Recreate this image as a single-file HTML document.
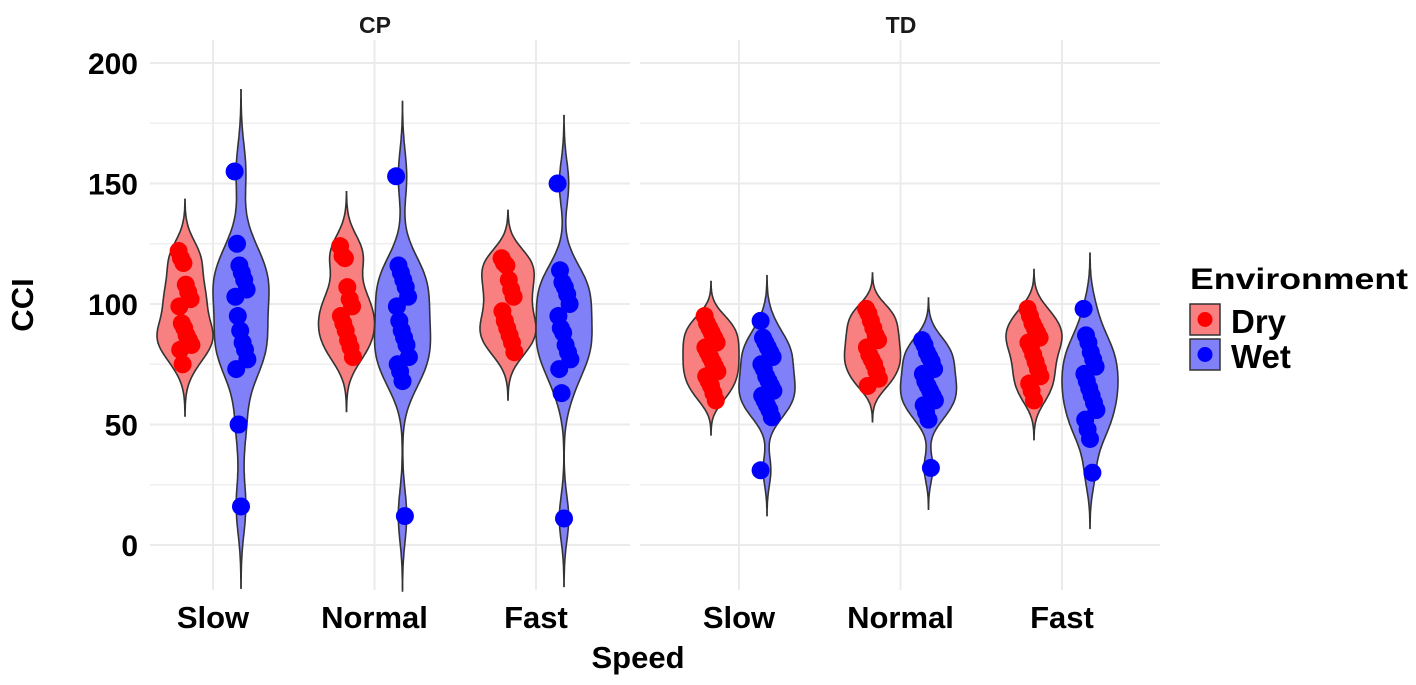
<!DOCTYPE html>
<html><head><meta charset="utf-8"><style>
html,body{margin:0;padding:0;background:#fff;}
svg{display:block;font-family:"Liberation Sans",Arial,sans-serif;}
</style></head><body>
<svg id="chart" width="1416" height="685" viewBox="0 0 1416 685"></svg>
<script>
const panels = ["CP","TD"];
const speeds = ["Slow","Normal","Fast"];
const envs = ["Dry","Wet"];
const yTicks = [0,50,100,150,200];
const cpSlowDry = [122,119,117,108,105,102,99,92,90,87,85,83,81,75];
const cpSlowWet = [155,125,116,113,110,106,103,95,89,84,81,77,73,50,16];
const cpNormalDry = [124,120,119,107,102,99,95,92,89,85,82,78];
const cpNormalWet = [153,116,113,110,107,103,99,93,89,86,83,78,75,72,68,12];
const cpFastDry = [119,117,116,110,106,103,97,93,90,87,84,80];
const cpFastWet = [150,114,109,107,104,100,95,90,88,83,80,77,73,63,11];
const tdSlowDry = [95,92,90,88,86,84,82,80,78,76,74,72,70,68,66,63,60];
const tdSlowWet = [93,86,84,82,80,78,75,73,70,68,66,64,62,60,58,56,53,31];
const tdNormalDry = [98,96,93,90,87,85,82,79,77,75,72,69,66];
const tdNormalWet = [85,83,80,78,76,73,71,68,66,64,62,60,58,55,52,32];
const tdFastDry = [98,95,92,90,88,86,84,82,79,76,73,70,67,64,60];
const tdFastWet = [98,87,84,80,77,74,71,68,65,62,59,56,52,48,44,30];
const series = [
 [[cpSlowDry,cpSlowWet],[cpNormalDry,cpNormalWet],[cpFastDry,cpFastWet]],
 [[tdSlowDry,tdSlowWet],[tdNormalDry,tdNormalWet],[tdFastDry,tdFastWet]]
];

const NS="http://www.w3.org/2000/svg";
const svg=document.getElementById('chart');
function mk(tag,attrs,parent){const e=document.createElementNS(NS,tag);for(const k in attrs)e.setAttribute(k,attrs[k]);(parent||svg).appendChild(e);return e;}
const panelX=[[150,630],[640,1160]];
const catStart=[213,739];
const panelTop=40, panelBot=590;
const catStep=161.5;
function yScale(v){return 545 - v*2.41;}
function xCat(p,i){return catStart[p]+i*catStep;}
const fills=["#f88080","#8080f8"], dots=["#ff0000","#0000ff"];

panels.forEach((pn,p)=>{
  const g=mk('g',{});
  
  
  for(let v=0;v<=200;v+=25){
    const gl=mk('line',{x1:panelX[p][0],x2:panelX[p][1],y1:yScale(v),y2:yScale(v),stroke:'#ebebeb','stroke-width':v%50?1.2:2},g);
    
    
  }
  speeds.forEach((s,i)=>{
    const gl=mk('line',{x1:xCat(p,i),x2:xCat(p,i),y1:panelTop,y2:panelBot,stroke:'#ebebeb','stroke-width':2},g);
    
    
    const t=mk('text',{x:xCat(p,i),y:628,'text-anchor':'middle','font-size':31,'font-weight':'bold',fill:'#000'},g);
    t.textContent=s;
    
    
  });
  const st=mk('text',{x:p?901:375,y:33,'text-anchor':'middle','font-size':23,'font-weight':'bold',fill:'#1a1a1a'},g);
  st.textContent=pn;
  
  
  speeds.forEach((s,i)=>{
    envs.forEach((e,k)=>{
      const data=series[p][i][k];
      const cx=xCat(p,i)+(k?28:-28);
      const n=data.length;
      const mean=data.reduce((a,b)=>a+b,0)/n;
      const sd=Math.sqrt(data.reduce((a,b)=>a+(b-mean)*(b-mean),0)/(n-1));
      const sorted=[...data].sort((a,b)=>a-b);
      const q=f=>{const h=(n-1)*f,l=Math.floor(h);return sorted[l]+(h-l)*((sorted[l+1]??sorted[l])-sorted[l]);};
      const iqr=q(0.75)-q(0.25);
      const bw=0.8*Math.min(sd,iqr/1.34)*Math.pow(n,-0.2);
      const lo=sorted[0]-3*bw, hi=sorted[n-1]+3*bw;
      const N=140, ys=[], ds=[];
      for(let j=0;j<=N;j++){const y=lo+(hi-lo)*j/N;let d=0;data.forEach(x=>{const z=(y-x)/bw;d+=Math.exp(-0.5*z*z);});ys.push(y);ds.push(d);}
      const mx=Math.max(...ds);
      let path='';
      for(let j=0;j<=N;j++){path+=(j?'L':'M')+(cx+28*ds[j]/mx).toFixed(1)+','+yScale(ys[j]).toFixed(1);}
      for(let j=N;j>=0;j--){path+='L'+(cx-28*ds[j]/mx).toFixed(1)+','+yScale(ys[j]).toFixed(1);}
      path+='Z';
      const vp=mk('path',{d:path,fill:fills[k],stroke:'#333','stroke-width':1.6},g);
      
      
      data.forEach((v,j)=>{
        const off=((j*37)%17-8)*0.8;
        const c=mk('circle',{cx:cx+off,cy:yScale(v),r:9,fill:dots[k]},g);
        
        
      });
    });
  });
});
yTicks.forEach(v=>{
  const t=mk('text',{x:138,y:yScale(v)+11,'text-anchor':'end','font-size':30,'font-weight':'bold',fill:'#000'});
  t.textContent=v;
  
  
});
const xt=mk('text',{x:638,y:668,'text-anchor':'middle','font-size':31,'font-weight':'bold',fill:'#000'});
xt.textContent='Speed';


const yt=mk('text',{x:0,y:0,'text-anchor':'middle','font-size':31,'font-weight':'bold',fill:'#000',transform:'translate(33,305) rotate(-90)'});
yt.textContent='CCI';


const lg=mk('g',{});


const lt=mk('text',{x:1190,y:289,'font-size':30,'font-weight':'bold',fill:'#000',textLength:218,lengthAdjust:'spacingAndGlyphs'},lg);
lt.textContent='Environment';


envs.forEach((e,k)=>{
  const y0=304+k*35;
  const r=mk('rect',{x:1190,y:y0,width:30,height:31,fill:fills[k],stroke:'#333','stroke-width':1.5},lg);
  
  
  const c=mk('circle',{cx:1205,cy:y0+15.5,r:7.5,fill:dots[k]},lg);
  
  
  const t=mk('text',{x:1231,y:y0+29,'font-size':33,'font-weight':'bold',fill:'#000'},lg);
  t.textContent=e;
  
  
});
</script>
</body></html>
